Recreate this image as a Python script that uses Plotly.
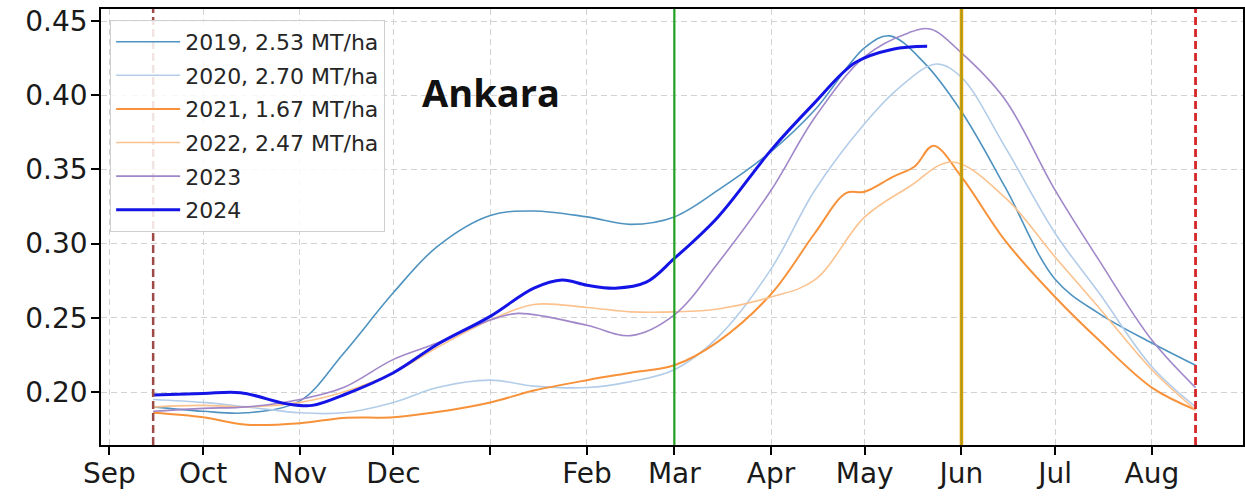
import plotly.graph_objects as go

# ---------------- data (season Sep -> Aug) ----------------
d2019 = ["09-15", "10-01", "10-15", "11-01", "11-15", "12-01", "12-15", "01-01", "01-15", "02-01", "02-15",
         "03-01", "03-15", "04-01", "04-15", "05-01", "05-09", "05-20", "06-01", "06-15", "07-01", "07-15",
         "08-01", "08-15"]
v2019 = [0.190, 0.187, 0.186, 0.194, 0.226, 0.267, 0.298, 0.319, 0.322, 0.318, 0.313,
         0.318, 0.336, 0.362, 0.390, 0.432, 0.440, 0.422, 0.389, 0.338, 0.276, 0.253,
         0.233, 0.218]

d2020 = ["09-15", "10-01", "10-15", "11-01", "11-15", "12-01", "12-15", "01-01", "01-15", "02-01", "02-15",
         "03-01", "03-15", "04-01", "04-15", "05-01", "05-12", "05-24", "06-01", "06-15", "07-01", "07-15",
         "08-01", "08-15"]
v2020 = [0.195, 0.193, 0.190, 0.186, 0.186, 0.193, 0.203, 0.208, 0.204, 0.203, 0.207,
         0.215, 0.237, 0.283, 0.336, 0.381, 0.405, 0.421, 0.412, 0.365, 0.307, 0.267,
         0.217, 0.190]

d2021 = ["09-15", "10-01", "10-15", "11-01", "11-15", "12-01", "12-15", "01-01", "01-15", "02-01", "02-15",
         "03-01", "03-15", "04-01", "04-15", "04-25", "05-01", "05-10", "05-17", "05-23", "06-01", "06-15",
         "07-01", "07-15", "08-01", "08-15"]
v2021 = [0.186, 0.183, 0.178, 0.179, 0.1825, 0.183, 0.1865, 0.193, 0.201, 0.208, 0.213,
         0.218, 0.234, 0.266, 0.307, 0.334, 0.335, 0.345, 0.352, 0.366, 0.345, 0.302,
         0.264, 0.235, 0.203, 0.188]

d2022 = ["09-15", "10-01", "10-15", "11-01", "11-15", "12-01", "12-15", "01-01", "01-15", "02-01", "02-15",
         "03-01", "03-15", "04-01", "04-15", "05-01", "05-15", "05-29", "06-15", "07-01", "07-15", "08-01",
         "08-15"]
v2022 = [0.190, 0.191, 0.190, 0.193, 0.200, 0.213, 0.230, 0.2485, 0.259, 0.257, 0.254,
         0.254, 0.256, 0.264, 0.2755, 0.318, 0.338, 0.355, 0.331, 0.291, 0.257, 0.215,
         0.188]

d2023 = ["09-15", "10-01", "10-15", "11-01", "11-15", "12-01", "12-15", "01-01", "01-10", "02-01", "02-15",
         "03-01", "03-15", "04-01", "04-15", "05-01", "05-15", "05-22", "06-01", "06-15", "07-01", "07-15",
         "08-01", "08-15"]
v2023 = [0.187, 0.189, 0.190, 0.195, 0.203, 0.222, 0.233, 0.2485, 0.253, 0.245, 0.238,
         0.252, 0.287, 0.336, 0.385, 0.426, 0.442, 0.4446, 0.4285, 0.397, 0.336, 0.289,
         0.235, 0.203]

d2024 = ["09-15", "10-01", "10-13", "10-28", "11-05", "11-15", "12-01", "12-15", "01-01", "01-15", "01-24",
         "02-01", "02-10", "02-20", "03-01", "03-15", "04-01", "04-15", "04-28", "05-10", "05-21"]
v2024 = [0.198, 0.199, 0.1995, 0.192, 0.191, 0.198, 0.213, 0.232, 0.251, 0.270, 0.2755,
         0.272, 0.270, 0.274, 0.290, 0.318, 0.363, 0.395, 0.422, 0.431, 0.433]

series_names = ["2019, 2.53 MT/ha", "2020, 2.70 MT/ha", "2021, 1.67 MT/ha", "2022, 2.47 MT/ha", "2023", "2024"]

month_ticks = ["09-01", "10-01", "11-01", "12-01", "01-01", "02-01", "03-01", "04-01", "05-01", "06-01",
               "07-01", "08-01"]
month_labels = ["Sep", "Oct", "Nov", "Dec", "", "Feb", "Mar", "Apr", "May", "Jun", "Jul", "Aug"]

y_ticks = [0.20, 0.25, 0.30, 0.35, 0.40, 0.45]

marker_dates = ["09-15", "03-01", "06-01", "08-15"]

location_label = "Ankara"


def to_date(md):
    m = int(md[:2])
    year = 2022 if m >= 9 else 2023
    return f"{year}-{md}"


styles = [
    dict(color="#4f93c0", width=1.6),
    dict(color="#b3cde9", width=1.6),
    dict(color="#f7923a", width=2.0),
    dict(color="#fcc28e", width=1.6),
    dict(color="#a087c9", width=1.6),
    dict(color="#1414e6", width=3.0),
]

fig = go.Figure()
all_d = [d2019, d2020, d2021, d2022, d2023, d2024]
all_v = [v2019, v2020, v2021, v2022, v2023, v2024]
for i, (dd, vv, nm) in enumerate(zip(all_d, all_v, series_names)):
    fig.add_trace(go.Scatter(
        x=[to_date(s) for s in dd], y=vv, name=nm, mode="lines",
        line=dict(shape="spline", smoothing=1.0, **styles[i]),
        legendgroup=f"g{i}",
    ))

# vertical markers
vl_styles = [
    dict(color="#9e4b47", width=2.5, dash="8px,4px"),
    dict(color="#22a022", width=2.2),
    dict(color="#e0a000", width=3.5),
    dict(color="#d62728", width=2.8, dash="8px,4px"),
]
for md, st in zip(marker_dates, vl_styles):
    fig.add_vline(x=to_date(md), line=st, layer="above")
# olive core on the June marker
fig.add_vline(x=to_date(marker_dates[2]), line=dict(color="#a89a20", width=1.4), layer="above")

fig.add_annotation(text=f"<b>{location_label}</b>", xref="paper", yref="paper",
                   x=0.3415, y=0.81, xanchor="center", yanchor="middle", showarrow=False,
                   font=dict(family="Open Sans", size=38, color="#111111"))

axis_common = dict(showline=True, linecolor="black", linewidth=1.5, mirror=True,
                   ticks="outside", ticklen=8, tickwidth=1.5, tickcolor="black",
                   showgrid=True, gridcolor="#d2d2d2", griddash="6px,4px", gridwidth=1,
                   zeroline=False, automargin=False,
                   tickfont=dict(family="DejaVu Sans", size=28, color="#1a1a1a"))

fig.update_layout(
    width=1245, height=497,
    margin=dict(l=101, r=2, t=9, b=52),
    paper_bgcolor="white", plot_bgcolor="white",
    xaxis=dict(type="date", range=["2022-08-29 07:00", "2023-08-30 05:00"],
               tickvals=[to_date(s) for s in month_ticks], ticktext=month_labels,
               ticklabelstandoff=-5, **axis_common),
    yaxis=dict(range=[0.1643, 0.4581], tickvals=y_ticks, tickformat=".2f",
               ticklabelstandoff=-2, **axis_common),
    legend=dict(x=0.008, y=0.975, xanchor="left", yanchor="top",
                bgcolor="rgba(255,255,255,0.85)", bordercolor="#cfcfcf", borderwidth=1,
                font=dict(family="DejaVu Sans", size=22, color="#262626"),
                tracegroupgap=2, traceorder="grouped", itemwidth=64),
    showlegend=True,
)

fig.write_html("out.html", config={"displayModeBar": False},
               post_script="document.body.style.margin='0';document.body.style.overflow='hidden';")
